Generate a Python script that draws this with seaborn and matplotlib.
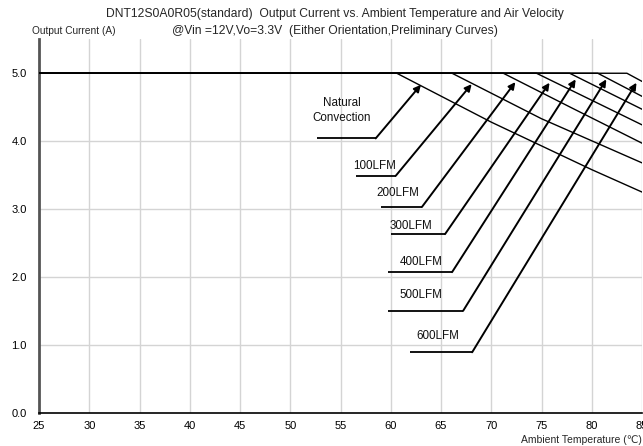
import matplotlib
matplotlib.use("Agg")
import matplotlib.pyplot as plt
import seaborn as sns
import pandas as pd
import numpy as np

# ---- data ----
curve_names = ["Natural Convection", "100LFM", "200LFM", "300LFM", "400LFM", "500LFM", "600LFM"]
nc_temp = [25, 60.6, 70, 80, 85]
nc_curr = [5.0, 5.0, 4.28, 3.58, 3.25]
lfm100_temp = [25, 66.1, 75, 85]
lfm100_curr = [5.0, 5.0, 4.33, 3.68]
lfm200_temp = [25, 71.2, 78, 85]
lfm200_curr = [5.0, 5.0, 4.49, 3.97]
lfm300_temp = [25, 74.5, 85]
lfm300_curr = [5.0, 5.0, 4.24]
lfm400_temp = [25, 77.8, 85]
lfm400_curr = [5.0, 5.0, 4.47]
lfm500_temp = [25, 80.6, 85]
lfm500_curr = [5.0, 5.0, 4.66]
lfm600_temp = [25, 83.5, 85]
lfm600_curr = [5.0, 5.0, 4.88]

x_ticks = [25, 30, 35, 40, 45, 50, 55, 60, 65, 70, 75, 80, 85]
y_ticks = [0.0, 1.0, 2.0, 3.0, 4.0, 5.0]
label_texts = ["Natural\nConvection", "100LFM", "200LFM", "300LFM", "400LFM", "500LFM", "600LFM"]

title1 = "DNT12S0A0R05(standard)  Output Current vs. Ambient Temperature and Air Velocity"
title2 = "@Vin =12V,Vo=3.3V  (Either Orientation,Preliminary Curves)"
ylab = "Output Current (A)"
xlab = "Ambient Temperature (\u2103)"

# ---- layout for the callouts (text pos, underline x-range & y, arrow tip) ----
callouts = [
    ((55.1, 4.45), (52.7, 58.5, 4.04), (63.0, 4.83)),
    ((58.4, 3.63), (56.55, 60.5, 3.49), (68.05, 4.84)),
    ((60.7, 3.24), (59.0, 63.1, 3.03), (72.4, 4.87)),
    ((62.0, 2.75), (60.0, 65.4, 2.63), (75.8, 4.86)),
    ((63.0, 2.22), (59.7, 66.1, 2.07), (78.4, 4.91)),
    ((63.0, 1.73), (59.7, 67.2, 1.50), (81.45, 4.91)),
    ((64.7, 1.13), (61.9, 68.1, 0.89), (84.45, 4.86)),
]

temps = [nc_temp, lfm100_temp, lfm200_temp, lfm300_temp, lfm400_temp, lfm500_temp, lfm600_temp]
currs = [nc_curr, lfm100_curr, lfm200_curr, lfm300_curr, lfm400_curr, lfm500_curr, lfm600_curr]
rows = []
for name, t, c in zip(curve_names, temps, currs):
    for ti, ci in zip(t, c):
        rows.append({"curve": name, "temp": ti, "current": ci})
df = pd.DataFrame(rows)

sns.set_style("white")
plt.rcParams["font.family"] = ["Liberation Sans", "DejaVu Sans"]

fig = plt.figure(figsize=(6.43, 4.46), dpi=100)
ax = fig.add_axes([39 / 643, 1 - 412.7 / 446, 603 / 643, (412.7 - 39.3) / 446])

sns.lineplot(data=df, x="temp", y="current", hue="curve", units="curve", estimator=None,
             palette={n: "black" for n in curve_names}, linewidth=1.0, legend=False,
             sort=True, ax=ax, zorder=3)

ax.set_xlim(25, 85)
ax.set_ylim(0, 5.5)
ax.set_xticks(x_ticks)
ax.set_xticklabels([str(v) for v in x_ticks], fontsize=8)
ax.set_xticks(np.arange(25, 86, 1), minor=True)
ax.set_yticks(y_ticks)
ax.set_yticklabels([f"{v:.1f}" for v in y_ticks], fontsize=8)
ax.set_xlabel("")
ax.set_ylabel("")

# grid
for v in x_ticks[1:]:
    ax.axvline(v, color="#d4d4d4", lw=1.0, zorder=0)
for v in y_ticks[1:5]:
    ax.axhline(v, color="#d4d4d4", lw=1.0, zorder=0)

for s in ["top", "right"]:
    ax.spines[s].set_visible(False)
ax.spines["left"].set_color("#555555")
ax.spines["left"].set_linewidth(2.0)
ax.spines["bottom"].set_color("black")
ax.spines["bottom"].set_linewidth(1.2)

ax.tick_params(axis="x", which="both", direction="inout", length=4, width=0.8, pad=4, colors="black")
ax.tick_params(axis="y", which="major", direction="out", length=3, width=0.8, pad=6, colors="black")

# callouts
for txt, (tpos, (ux0, ux1, uy), tip) in zip(label_texts, callouts):
    ax.text(tpos[0], tpos[1], txt, ha="center", va="center", fontsize=8.4, color="#111111",
            linespacing=1.4, zorder=4)
    ax.plot([ux0, ux1], [uy, uy], color="black", lw=1.3, zorder=4, solid_capstyle="butt")
    ax.annotate("", xy=tip, xytext=(ux1, uy),
                arrowprops=dict(arrowstyle="-|>", color="black", lw=1.4,
                                mutation_scale=10, shrinkA=0, shrinkB=0),
                zorder=5)

fig.text(335 / 643, 1 - 14 / 446, title1, ha="center", va="center", fontsize=8.7)
fig.text(335 / 643, 1 - 31 / 446, title2, ha="center", va="center", fontsize=8.7)
fig.text(74 / 643, 1 - 31 / 446, ylab, ha="center", va="center", fontsize=7.3)
fig.text(642 / 643, 1 - 440 / 446, xlab, ha="right", va="center", fontsize=7.5)

fig.savefig("out.png", dpi=100)
